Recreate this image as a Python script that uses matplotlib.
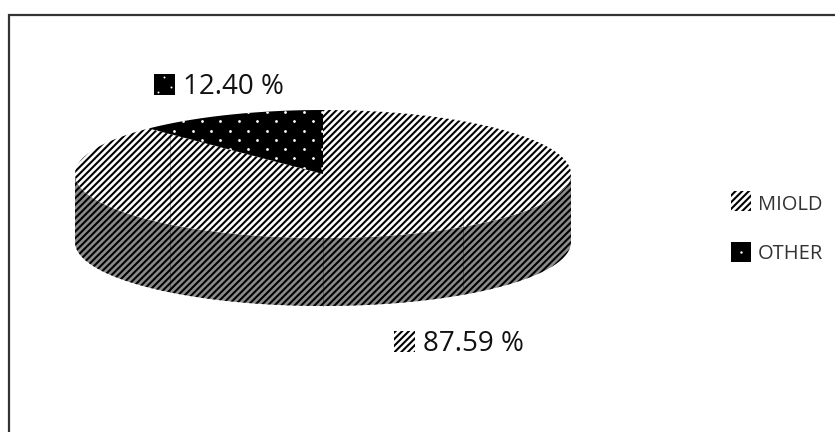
import numpy as np
import matplotlib
matplotlib.use('Agg')
import matplotlib.pyplot as plt
from matplotlib.patches import Polygon, Rectangle

# data
categories = ['MIOLD', 'OTHER']
shares = [87.59, 12.40]
share_labels = ['87.59 %', '12.40 %']

plt.rcParams['font.family'] = ['Open Sans', 'DejaVu Sans']
plt.rcParams['hatch.linewidth'] = 1.5

# pie geometry, in pixels of the picture
cx, cy = 323.0, 174.0
rx, ry = 248.0, 64.0
depth = 68.0
HATCH = '/////'


def rim(t):
    # t clockwise from 12 o'clock, degrees
    t = np.radians(t)
    return cx + rx*np.sin(t), cy - ry*np.cos(t)


def stripes(xy, face='white'):
    return Polygon(xy, closed=True, facecolor=face, edgecolor='black', hatch=HATCH, linewidth=0)


fig = plt.figure(figsize=(8.35, 4.32), dpi=100)
ax = fig.add_axes([0, 0, 1, 1])
ax.set_xlim(0, 835)
ax.set_ylim(432, 0)
ax.axis('off')

# frame, only left and top show
ax.plot([9, 9, 835], [432, 15, 15], color='#333333', lw=1.6, solid_joinstyle='miter')

# side wall
t = np.linspace(90, 270, 200)
x, y = rim(t)
wall = np.column_stack([np.r_[x, x[::-1]], np.r_[y + depth, y[::-1]]])
ax.add_patch(stripes(wall, face='#8a8a8a'))

# top face, the small slice finishes at 12 o'clock
other_angle = shares[1]/100*360
t_other = np.linspace(-other_angle, 0, 60)
t_miold = np.linspace(0, 360 - other_angle, 300)
x, y = rim(t_miold)
ax.add_patch(stripes(np.column_stack([np.r_[cx, x], np.r_[cy, y]])))

x, y = rim(t_other)
slice_xy = np.column_stack([np.r_[cx, x], np.r_[cy, y]])
slice_patch = Polygon(slice_xy, closed=True, facecolor='black', edgecolor='none')
ax.add_patch(slice_patch)
gx, gy = np.meshgrid(np.arange(100, 340, 18.5), np.arange(112, 176, 18.5))
dots = ax.scatter(gx.ravel(), gy.ravel(), s=4, color='white', linewidths=0)
dots2 = ax.scatter(gx.ravel() + 9.25, gy.ravel() + 9.25, s=4, color='white', linewidths=0)
dots.set_clip_path(slice_patch)
dots2.set_clip_path(slice_patch)

# thin seams across the pie
for sx, y0, y1 in [(170, 128, 292), (323, 238, 306), (463, 215, 287)]:
    ax.plot([sx, sx], [y0, y1], color='black', lw=0.5, alpha=0.45)

# data labels
ax.add_patch(Rectangle((154, 74), 21, 21, facecolor='black', edgecolor='none'))
ax.scatter([164, 171, 158], [77, 87, 92], s=2, color='white', linewidths=0)
ax.text(183, 87, share_labels[1], fontsize=20, color='#111111', va='center', ha='left')
ax.add_patch(Rectangle((394, 331), 21, 21, facecolor='white', edgecolor='black', hatch=HATCH, linewidth=0))
ax.text(423, 344, share_labels[0], fontsize=20, color='#111111', va='center', ha='left')

# legend
ax.add_patch(Rectangle((731, 191), 20, 20, facecolor='white', edgecolor='black', hatch=HATCH, linewidth=0))
ax.text(758, 205, categories[0], fontsize=14.5, color='#333333', va='center', ha='left')
ax.add_patch(Rectangle((731, 242), 20, 20, facecolor='black', edgecolor='none'))
ax.scatter([741], [252], s=3, color='white', linewidths=0)
ax.text(758, 254, categories[1], fontsize=14.5, color='#333333', va='center', ha='left')

fig.savefig('out.png', dpi=100)
